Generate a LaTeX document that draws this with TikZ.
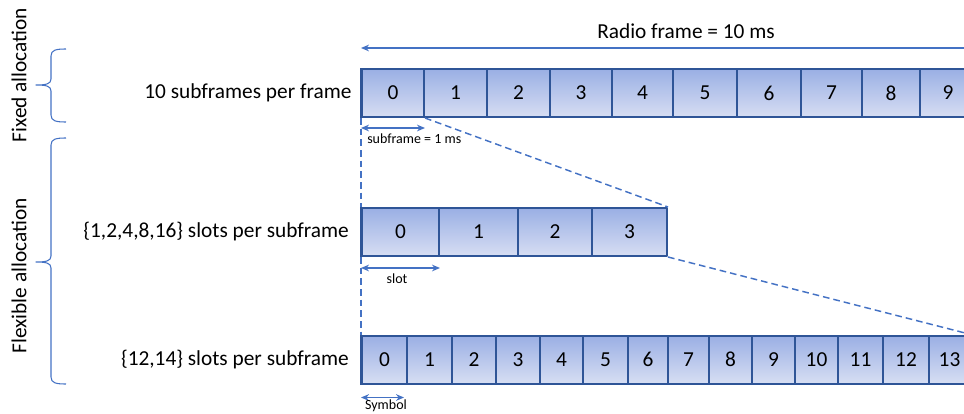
\documentclass[tikz,border=0pt]{standalone}
\usepackage{fontspec}
\setmainfont{Carlito}
\usetikzlibrary{arrows.meta,positioning}

\definecolor{bd}{HTML}{2F5597}
\definecolor{ln}{HTML}{4472C4}
\definecolor{ctop}{HTML}{9AAFE4}
\definecolor{cbot}{HTML}{D7DEF3}

\begin{document}
\begin{tikzpicture}[
  x=0.75pt,
  y=-0.75pt,
  line join=round,
  >={Stealth[length=6pt,width=5pt]},
  cell/.style={draw=bd, line width=1.5pt, top color=ctop, bottom color=cbot,
    minimum height=36pt, inner sep=0pt, font=\fontsize{16}{19}\selectfont},
  rowlab/.style={font=\fontsize{16}{19}\selectfont, inner sep=0pt},
  note/.style={font=\fontsize{10.5}{12}\selectfont, inner sep=0pt},
  arr/.style={draw=ln, line width=1pt},
  dashline/.style={draw=ln, line width=1.1pt, dash pattern=on 5pt off 3pt},
  brc/.style={draw=ln, line width=0.8pt}
]
  \useasboundingbox (0,0) rectangle (964,414);
  \clip (0,0) rectangle (964,414);

  % Кадр
  \foreach \a/\b [count=\i from 0] in {362/424,424/487,487/550,550/612,612/673,
      673/737,737/801,801/862,862/920,920/976}
    \node[cell, minimum width={(\b-\a)*0.75pt}] (f\i) at ({(\a+\b)/2},93) {\i};

  % Слоты
  \foreach \a/\b [count=\i from 0] in {362/439,439/518,518/592,592/667}
    \node[cell, minimum width={(\b-\a)*0.75pt}] (s\i) at ({(\a+\b)/2},232) {\i};

  % Символы
  \foreach \a/\b [count=\i from 0] in {362/407,407/452,452/496,496/540,540/583,
      583/628,628/668,668/709,709/752,752/795,795/838,838/883,883/929,929/970}
    \node[cell, minimum width={(\b-\a)*0.75pt}] (y\i) at ({(\a+\b)/2},359.5) {\i};

  % Левые кромки
  \draw[bd, line width=2.2pt] (f0.north west) -- (f0.south west);
  \draw[bd, line width=2.2pt] (s0.north west) -- (s0.south west);
  \draw[bd, line width=2.2pt] (y0.north west) -- (y0.south west);

  % Подписи строк
  \node[rowlab, left=7pt of f0] (lbf) {10 subframes per frame};
  \node[rowlab, left=9pt of s0] (lbs) {\{1,2,4,8,16\} slots per subframe};
  \node[rowlab, left=9pt of y0] (lby) {\{12,14\} slots per subframe};

  % Длительность кадра
  \coordinate (rfR) at (964,48);
  \draw[arr,<-] (f0.north west |- rfR) -- (rfR);
  \node[rowlab] (rft) at (686,31) {Radio frame = 10 ms};

  % Длительности
  \draw[arr,<->] ([yshift=-7.5pt]f0.south west) -- ([yshift=-7.5pt]f0.south east);
  \node[note, anchor=west] (sfn) at (367,139) {subframe = 1 ms};
  \draw[arr,<->] ([yshift=-8.25pt]s0.south west) -- ([yshift=-8.25pt]s0.south east);
  \node[note] (sln) at (397,279) {slot};
  \draw[arr,<->] ([yshift=-9.75pt]y0.south west) -- ([shift={(-4,13)}]y0.south east);
  \node[note] (syn) at (386,406) {Symbol};

  % Раскрытие
  \draw[dashline] (f0.south west) -- (s0.north west);
  \draw[dashline] (f0.south east) -- (s3.north east);
  \draw[dashline] (s0.south west) -- (y0.north west);
  \draw[dashline] (s3.south east) -- (y13.north east);

  % Скобки
  \draw[brc] (66,49) .. controls (56,49) and (51,50) .. (51,56) -- (51,79)
    .. controls (51,84) and (46,85) .. (36,85)
    .. controls (46,85) and (51,86) .. (51,91) -- (51,115)
    .. controls (51,121) and (56,122) .. (66,122);
  \draw[brc] (66,138) .. controls (56,138) and (51,139) .. (51,145) -- (51,256)
    .. controls (51,261) and (46,262) .. (36,262)
    .. controls (46,262) and (51,263) .. (51,268) -- (51,377)
    .. controls (51,383) and (56,384) .. (66,384);

  \node[rowlab, rotate=90] (fixl) at (19,75) {Fixed allocation};
  \node[rowlab, rotate=90] (flxl) at (19,276) {Flexible allocation};
\end{tikzpicture}
\end{document}
